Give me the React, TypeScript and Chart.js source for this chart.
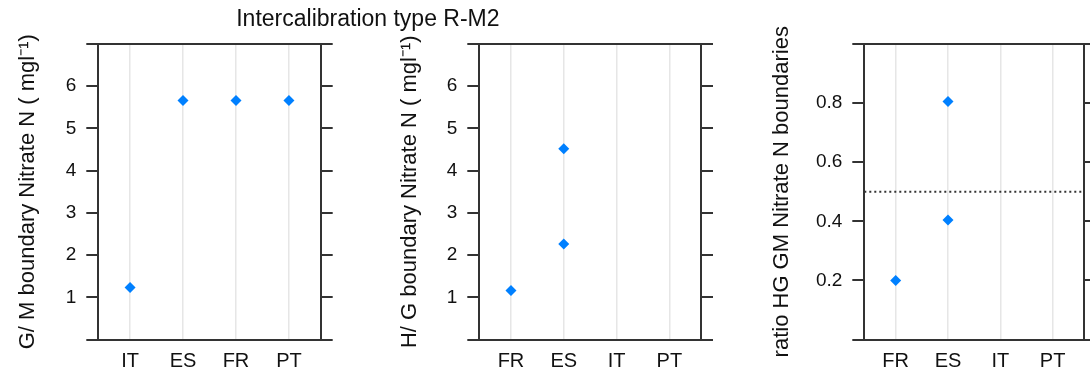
import React, { useEffect, useRef } from 'react';
import { Chart, registerables } from 'chart.js';

Chart.register(...registerables);

// ---------- data ----------
const mainTitle = 'Intercalibration type R-M2';

const gmCategories = ['IT', 'ES', 'FR', 'PT'];
const gmPointCountries = ['IT', 'ES', 'FR', 'PT'];
const gmValues = [1.23, 5.66, 5.66, 5.66];
const gmYTicks = [0, 1, 2, 3, 4, 5, 6, 7];
const gmYTickLabels = ['', '1', '2', '3', '4', '5', '6', ''];
const gmYLabel = 'G/ M boundary Nitrate N ( mgl⁻¹)';

const hgCategories = ['FR', 'ES', 'IT', 'PT'];
const hgPointCountries = ['FR', 'ES', 'ES'];
const hgValues = [1.16, 4.52, 2.26];
const hgYTicks = [0, 1, 2, 3, 4, 5, 6, 7];
const hgYTickLabels = ['', '1', '2', '3', '4', '5', '6', ''];
const hgYLabel = 'H/ G boundary Nitrate N ( mgl⁻¹)';

const ratioCategories = ['FR', 'ES', 'IT', 'PT'];
const ratioPointCountries = ['FR', 'ES', 'ES'];
const ratioValues = [0.2, 0.805, 0.404];
const ratioYTicks = [0, 0.2, 0.4, 0.6, 0.8, 1.0];
const ratioYTickLabels = ['', '0.2', '0.4', '0.6', '0.8', ''];
const ratioRefLine = 0.5;
const ratioYLabel = 'ratio HG GM Nitrate N boundaries';

// ---------- styling / layout ----------
const FONT = "'Liberation Sans', Arial, Helvetica, sans-serif";
const TEXT = '#111111';
const AXIS = '#333333';
const GRID = '#e6e6e6';
const POINT = '#0080ff';

type Panel = {
  categories: string[];
  pointCountries: string[];
  values: number[];
  yTicks: number[];
  yTickLabels: string[];
  yLabel: string;
  refLine?: number;
  title?: string;
  canvasLeft: number;
  canvasWidth: number;
  padLeft: number;
  leftAxisWidth: number;
  rightAxisWidth: number;
  padRight: number;
};

const panels: Panel[] = [
  {
    categories: gmCategories, pointCountries: gmPointCountries, values: gmValues,
    yTicks: gmYTicks, yTickLabels: gmYTickLabels, yLabel: gmYLabel, title: mainTitle,
    canvasLeft: 0, canvasWidth: 721, padLeft: 14.8, leftAxisWidth: 83.5, rightAxisWidth: 400.3, padRight: 0,
  },
  {
    categories: hgCategories, pointCountries: hgPointCountries, values: hgValues,
    yTicks: hgYTicks, yTickLabels: hgYTickLabels, yLabel: hgYLabel,
    canvasLeft: 345, canvasWidth: 385, padLeft: 51.8, leftAxisWidth: 82.5, rightAxisWidth: 12, padRight: 17,
  },
  {
    categories: ratioCategories, pointCountries: ratioPointCountries, values: ratioValues,
    yTicks: ratioYTicks, yTickLabels: ratioYTickLabels, yLabel: ratioYLabel, refLine: ratioRefLine,
    canvasLeft: 730, canvasWidth: 380, padLeft: 38.8, leftAxisWidth: 95.5, rightAxisWidth: 12, padRight: 14,
  },
];

const H = 376;

function makeConfig(p: Panel): any {
  const xMin = 0.4;
  const xMax = p.categories.length + 0.6;
  const yMin = p.yTicks[0];
  const yMax = p.yTicks[p.yTicks.length - 1];
  const points = p.values.map((v, i) => ({ x: p.categories.indexOf(p.pointCountries[i]) + 1, y: v }));
  const datasets: any[] = [
    {
      type: 'scatter',
      data: points,
      backgroundColor: POINT,
      borderColor: POINT,
      borderWidth: 0,
      pointStyle: 'rectRot',
      pointRadius: 5.5,
    },
  ];
  if (p.refLine !== undefined) {
    datasets.push({
      type: 'line',
      data: [{ x: xMin, y: p.refLine }, { x: xMax, y: p.refLine }],
      borderColor: AXIS,
      borderWidth: 2,
      borderDash: [2, 3],
      pointRadius: 0,
      fill: false,
    });
  }
  const tickLines = {
    display: true, drawOnChartArea: false, drawTicks: true, tickLength: 12, color: AXIS, lineWidth: 2,
  };
  const border = { display: true, color: AXIS, width: 2 };
  return {
    type: 'scatter',
    data: { datasets },
    options: {
      responsive: false,
      animation: false,
      layout: { padding: { left: p.padLeft, right: p.padRight, top: p.title ? 0 : 44, bottom: 0 } },
      plugins: {
        legend: { display: false },
        tooltip: { enabled: false },
        title: p.title
          ? {
              display: true, text: p.title, color: TEXT,
              font: { family: FONT, size: 23, weight: 'normal' },
              padding: { top: 5.5, bottom: 10.9 },
            }
          : { display: false },
      },
      scales: {
        x: {
          type: 'linear', position: 'bottom', min: xMin, max: xMax,
          afterBuildTicks: (s: any) => { s.ticks = p.categories.map((_, i) => ({ value: i + 1 })); },
          afterFit: (s: any) => { s.height = 36.5; },
          ticks: {
            callback: (v: any) => p.categories[Math.round(Number(v)) - 1] ?? '',
            font: { family: FONT, size: 20 }, color: TEXT, padding: 10, maxRotation: 0, autoSkip: false,
          },
          grid: { display: true, drawOnChartArea: true, drawTicks: false, color: GRID, lineWidth: 1.5 },
          border,
        },
        x2: {
          type: 'linear', position: 'top', min: xMin, max: xMax,
          afterFit: (s: any) => { s.height = 0; },
          ticks: { display: false },
          grid: { display: false },
          border,
        },
        y: {
          type: 'linear', position: 'left', min: yMin, max: yMax,
          afterBuildTicks: (s: any) => { s.ticks = p.yTicks.map((v) => ({ value: v })); },
          afterFit: (s: any) => { s.width = p.leftAxisWidth; },
          ticks: {
            callback: (_v: any, i: number) => p.yTickLabels[i] ?? '',
            font: { family: FONT, size: 19 }, color: TEXT, padding: 10, autoSkip: false,
          },
          grid: tickLines,
          border,
          title: {
            display: true, text: p.yLabel, color: TEXT,
            font: { family: FONT, size: 22 }, padding: { top: 0, bottom: 0 },
          },
        },
        y2: {
          type: 'linear', position: 'right', min: yMin, max: yMax,
          afterBuildTicks: (s: any) => { s.ticks = p.yTicks.map((v) => ({ value: v })); },
          afterFit: (s: any) => { s.width = p.rightAxisWidth; },
          ticks: { display: false },
          grid: tickLines,
          border,
        },
      },
    },
  };
}

function PanelChart({ panel }: { panel: Panel }) {
  const ref = useRef<HTMLCanvasElement | null>(null);
  useEffect(() => {
    if (!ref.current) return;
    const chart = new Chart(ref.current, makeConfig(panel));
    return () => chart.destroy();
  }, [panel]);
  return (
    <canvas
      ref={ref}
      width={panel.canvasWidth}
      height={H}
      style={{ position: 'absolute', left: panel.canvasLeft, top: 0, width: panel.canvasWidth, height: H }}
    />
  );
}

export default function App() {
  return (
    <div
      style={{
        position: 'fixed', left: 0, top: 0, width: 1090, height: H,
        overflow: 'hidden', background: '#ffffff',
      }}
    >
      {panels.map((p, i) => (
        <PanelChart key={i} panel={p} />
      ))}
    </div>
  );
}
